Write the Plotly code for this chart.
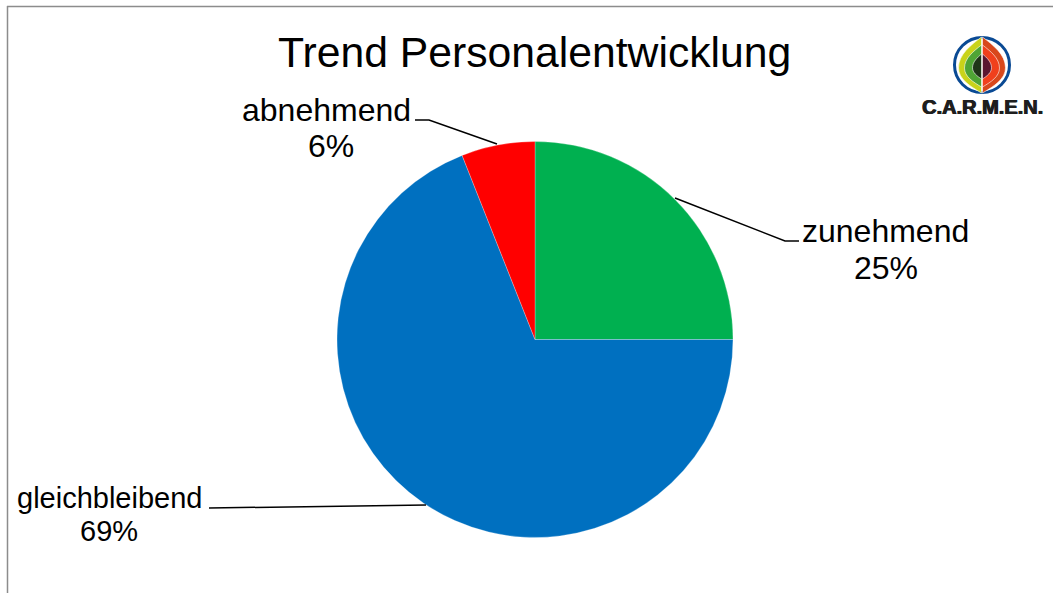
import plotly.graph_objects as go

# Survey shares, clockwise from twelve o'clock
categories = ["zunehmend", "gleichbleibend", "abnehmend"]
shares = [25, 69, 6]
slice_colors = ["#00B050", "#0070C0", "#FF0000"]
chart_title = "Trend Personalentwicklung"
logo_text = "C.A.R.M.E.N."

W, H = 1053, 593
CX, CY, R = 535, 339.5, 198

# Name line (x, y), share line (x, y), font size for each data label
label_pos = {
    "zunehmend": ((885, 231), (885.5, 268), 32),
    "gleichbleibend": ((109.5, 498), (109, 531), 29),
    "abnehmend": ((326.5, 110), (331, 146), 32),
}
leaders = [
    [(675, 198), (785, 241), (799, 241)],
    [(426, 505), (209, 508)],
    [(497, 144), (429, 120), (415, 120)],
]


def px(x):
    return x / W


def py(y):
    return 1 - y / H


def poly(points):
    return "M " + " L ".join(f"{px(x):.5f},{py(y):.5f}" for x, y in points)


def lens(cx, half_w, top, bottom, side):
    """Half of a pointed leaf outline, as a filled cubic path."""
    s = side * half_w
    h = bottom - top
    mid = top + h * 0.55
    return (
        f"M {px(cx):.5f},{py(top):.5f} "
        f"C {px(cx + s * .45):.5f},{py(top + h * .14):.5f} {px(cx + s):.5f},{py(mid - h * .24):.5f} {px(cx + s):.5f},{py(mid):.5f} "
        f"C {px(cx + s):.5f},{py(mid + h * .2):.5f} {px(cx + s * .5):.5f},{py(bottom - h * .12):.5f} {px(cx):.5f},{py(bottom):.5f} Z"
    )


fig = go.Figure(
    go.Pie(
        labels=categories,
        values=shares,
        sort=False,
        direction="clockwise",
        rotation=0,
        marker=dict(colors=slice_colors, line=dict(color="rgba(255,255,255,0.5)", width=0.5)),
        textinfo="none",
        hoverinfo="label+percent",
        showlegend=False,
        domain=dict(x=[px(CX - R), px(CX + R)], y=[py(CY + R), py(CY - R)]),
    )
)

shapes = [
    # Frame, top and left edges only
    dict(type="line", xref="paper", yref="paper", x0=px(7.5), x1=px(7.5), y0=py(6), y1=0,
         line=dict(color="#8C8C8C", width=1.5)),
    dict(type="line", xref="paper", yref="paper", x0=px(7), x1=1, y0=py(6.5), y1=py(6.5),
         line=dict(color="#8C8C8C", width=1.5)),
]
for pts in leaders:
    shapes.append(dict(type="path", xref="paper", yref="paper", path=poly(pts),
                       line=dict(color="black", width=1.5)))

# Emblem: blue ring around nested leaves, cool tones left, warm tones right
LX, LY = 982, 65
shapes.append(dict(type="circle", xref="paper", yref="paper",
                   x0=px(LX - 27.5), x1=px(LX + 27.5), y0=py(LY + 27.5), y1=py(LY - 27.5),
                   fillcolor="white", line=dict(color="#0A4A94", width=3)))
for half_w, top, bottom, left, right in [
    (23, LY - 28, LY + 28, "#C9D31A", "#D8481C"),
    (17, LY - 20, LY + 22, "#4FA535", "#F0401C"),
    (9, LY - 11, LY + 14, "#1F3518", "#5A1630"),
]:
    shapes.append(dict(type="path", xref="paper", yref="paper", path=lens(LX - .5, half_w, top, bottom, -1),
                       fillcolor=left, line=dict(color="white", width=0.6)))
    shapes.append(dict(type="path", xref="paper", yref="paper", path=lens(LX + .5, half_w, top, bottom, 1),
                       fillcolor=right, line=dict(color="white", width=0.6)))

FONT = "Liberation Sans, Arial, sans-serif"
annotations = [
    dict(text=chart_title, x=px(534.5), y=py(52), font=dict(size=42.7, color="black", family=FONT)),
    dict(text=f"<b>{logo_text}</b>", x=px(982.5), y=py(107),
         font=dict(size=20, color="#1E1E1E", family=FONT, shadow="0.7px 0 0 #1E1E1E, -0.4px 0 0 #1E1E1E")),
]
for name, share in zip(categories, shares):
    name_xy, share_xy, size = label_pos[name]
    for line, (x, y) in ((name, name_xy), (f"{share}%", share_xy)):
        annotations.append(dict(text=line, x=px(x), y=py(y),
                                font=dict(size=size, color="black", family=FONT)))
for a in annotations:
    a.update(xref="paper", yref="paper", xanchor="center", yanchor="middle", showarrow=False)

fig.update_layout(
    width=W,
    height=H,
    margin=dict(l=0, r=0, t=0, b=0),
    paper_bgcolor="white",
    shapes=shapes,
    annotations=annotations,
)
fig.write_html("out.html", config={"displayModeBar": False})
